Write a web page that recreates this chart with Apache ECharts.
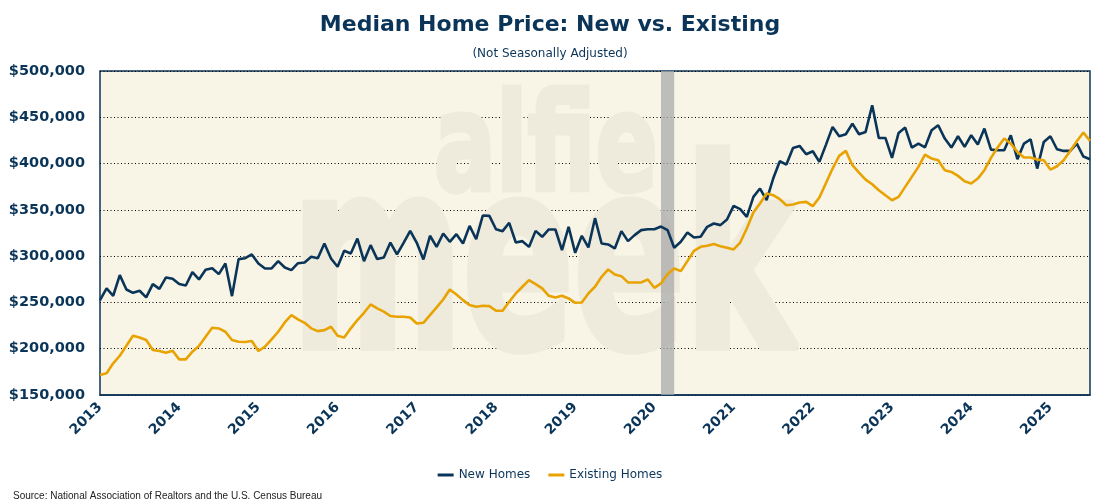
<!DOCTYPE html>
<html>
<head>
<meta charset="utf-8">
<script src="https://cdn.jsdelivr.net/npm/echarts@6/dist/echarts.min.js"></script>
<style>
html,body{margin:0;padding:0;background:#ffffff;}
#chart{width:1100px;height:500px;}
</style>
</head>
<body>
<div id="chart"></div>
<script>
// Years covered (monthly data Jan 2013 - Jul 2025)
var years = [2013,2014,2015,2016,2017,2018,2019,2020,2021,2022,2023,2024,2025];
var lastYearMonths = 7;

// Median new home price (USD), monthly
var newHomes = [
252500,265100,257200,279500,264000,260400,262600,255400,269800,264700,277000,275500,
269800,268300,282700,274800,285300,287000,280600,292000,256800,296800,297800,301800,
292000,286700,286700,294600,287800,284900,292400,293200,299300,297800,313700,297500,
288500,305800,302900,319000,294600,311900,296800,298600,314700,301800,314400,327300,
314400,296400,322000,310000,324500,315500,323700,313700,332700,318300,343900,343500,
329100,327000,336000,314700,316200,310000,327300,320900,328800,328800,306500,331700,
303600,322000,309400,341000,313700,312600,308300,327000,316200,322700,328100,329100,
329100,332000,328100,309000,315500,325500,320100,320900,331700,335300,333500,339600,
354300,350700,342400,364000,373000,360400,383800,402500,398900,416900,419100,410100,
413300,401800,420500,439600,429500,431700,443200,431700,434200,463000,427700,427700,
406100,433100,438900,417300,421600,417500,436000,441400,427000,417300,429500,418000,
430600,420500,437800,415100,414400,414400,430600,404700,421600,426300,394600,423400,
429500,415500,413700,413700,421600,407600,404700
];

// Median existing home price (USD), monthly
var existingHomes = [
171600,173400,184200,192400,203200,214000,212200,209400,198600,197500,195700,197800,
188500,188500,196800,202900,213000,222700,221900,218300,209400,207600,207200,208300,
197500,202200,210000,218300,228400,236300,231700,228000,222000,219000,220100,223700,
214000,212200,222000,231000,238800,247800,243500,240000,235300,234500,234500,233800,
227300,228000,236300,244600,253200,264000,258600,252500,247100,245300,246400,246000,
241000,241000,250700,259700,266900,274100,269800,265100,257200,255400,257200,254300,
249600,250000,259700,266900,277700,285600,280200,278400,271600,271600,271600,274800,
265800,270500,280600,286700,283800,294600,305800,310100,311200,313000,310800,309000,
307200,314700,329900,347100,356800,367600,365800,361500,355000,355800,357900,358600,
354000,363300,379100,394600,408300,413700,398200,390300,382700,377700,371200,365800,
360400,364000,374800,385600,396400,409700,405400,403600,392800,391000,386700,381000,
378400,383800,392800,406100,417300,427000,421600,412600,406500,406500,404300,403600,
393500,397100,403600,413700,424100,433500,424500
];

// Recession band (NBER)
var recessionStart = '2020-02';
var recessionEnd = '2020-04';

// Y-axis ticks
var yMin = 150000, yMax = 500000, yStep = 50000;

var months = [];
years.forEach(function(y, k){
  var n = (k === years.length - 1) ? lastYearMonths : 12;
  for (var m = 1; m <= n; m++) months.push(y + '-' + (m < 10 ? '0' + m : m));
});

var navy = '#0b3558';
var gold = '#e8a202';
var wm = '#eeebdc';

var chart = echarts.init(document.getElementById('chart'), null, {renderer: 'canvas'});
chart.setOption({
  animation: false,
  backgroundColor: '#ffffff',
  title: [
    {text: 'Median Home Price: New vs. Existing', left: 'center', top: 9,
     textStyle: {fontFamily: 'DejaVu Sans', fontWeight: 'bold', fontSize: 22, color: navy}},
    {text: '(Not Seasonally Adjusted)', left: 'center', top: 43,
     textStyle: {fontFamily: 'DejaVu Sans', fontWeight: 'normal', fontSize: 12, color: navy}},
    {text: 'Source: National Association of Realtors and the U.S. Census Bureau', left: 8, top: 486,
     textStyle: {fontFamily: 'Liberation Sans', fontWeight: 'normal', fontSize: 10, color: '#222222'}}
  ],
  legend: {
    data: ['New Homes', 'Existing Homes'],
    left: 'center', top: 464,
    icon: 'rect', itemWidth: 16, itemHeight: 3, itemGap: 18,
    textStyle: {fontFamily: 'DejaVu Sans', fontSize: 12, color: navy, padding: [0,0,0,0]}
  },
  grid: {
    left: 100, right: 10, top: 71, bottom: 105,
    show: true, backgroundColor: '#f8f5e6', borderColor: navy, borderWidth: 1.5,
    containLabel: false
  },
  graphic: [
    {type: 'text', x: 434, y: 222, scaleX: 0.68, z: 1, silent: true,
     style: {text: 'alfie', font: 'bold 135px "DejaVu Sans"', fill: wm, stroke: wm, lineWidth: 5,
             align: 'left', verticalAlign: 'bottom'}},
    {type: 'text', x: 292, y: 409, scaleX: 0.63, z: 1, silent: true,
     style: {text: 'meek', font: 'bold 260px "DejaVu Sans"', fill: wm, stroke: wm, lineWidth: 9,
             align: 'left', verticalAlign: 'bottom'}}
  ],
  xAxis: {
    type: 'category',
    data: months,
    boundaryGap: false,
    axisLine: {show: true, lineStyle: {color: navy, width: 1.5}},
    axisTick: {show: false},
    splitLine: {show: false},
    axisLabel: {
      rotate: 45, margin: 10,
      interval: function(idx){ return idx % 12 === 0; },
      formatter: function(v){ return v.slice(0,4); },
      fontFamily: 'DejaVu Sans', fontWeight: 'bold', fontSize: 14, color: navy
    }
  },
  yAxis: {
    type: 'value', min: yMin, max: yMax, interval: yStep,
    axisLine: {show: false}, axisTick: {show: false},
    splitLine: {show: true, lineStyle: {color: '#000000', width: 1, type: [1, 2.5]}},
    axisLabel: {
      margin: 15,
      formatter: function(v){ return '$' + v.toLocaleString('en-US'); },
      fontFamily: 'DejaVu Sans', fontWeight: 'bold', fontSize: 14.5, color: navy
    }
  },
  series: [
    {name: 'Recession', type: 'line', data: [], silent: true, z: 1,
     markArea: {silent: true, itemStyle: {color: 'rgba(170,170,170,0.75)'},
       data: [[{xAxis: recessionStart}, {xAxis: recessionEnd}]]}},
    {name: 'New Homes', type: 'line', data: newHomes, showSymbol: false, symbol: 'none', z: 3,
     lineStyle: {color: navy, width: 2.6}, itemStyle: {color: navy}},
    {name: 'Existing Homes', type: 'line', data: existingHomes, showSymbol: false, symbol: 'none', z: 4,
     lineStyle: {color: gold, width: 2.6}, itemStyle: {color: gold}}
  ]
});
</script>
</body>
</html>
